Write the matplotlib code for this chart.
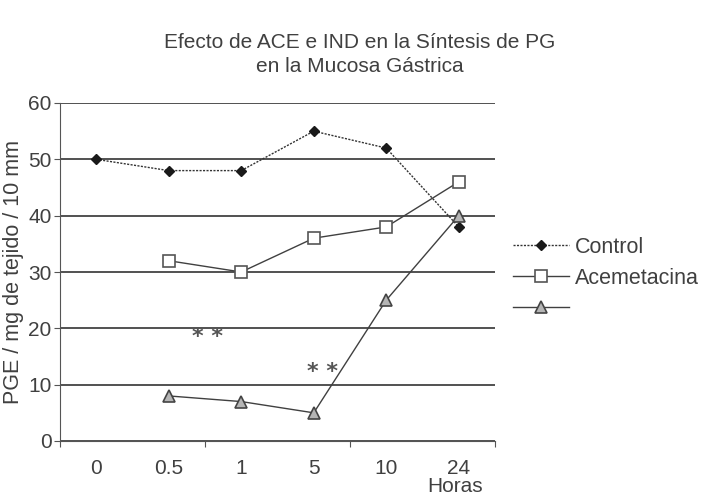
import matplotlib
matplotlib.use("Agg")
import matplotlib.pyplot as plt
import numpy as np

horas = ["0", "0.5", "1", "5", "10", "24"]
control = [50, 48, 48, 55, 52, 38]
acemetacina = [np.nan, 32, 30, 36, 38, 46]
indometacina = [np.nan, 8, 7, 5, 25, 40]

txt = "#404040"
plt.rcParams["font.family"] = ["Liberation Sans", "DejaVu Sans"]

fig = plt.figure(figsize=(7.14, 4.97), dpi=100)
ax = fig.add_axes([60 / 714, 1 - 441 / 497, 435 / 714, 338 / 497])

x = np.arange(len(horas)) + 0.5
ax.plot(x, control, ls=(0, (1.5, 1)), lw=1, color="#333333", marker="D", ms=5,
        mfc="#1a1a1a", mec="#1a1a1a", label="Control", zorder=3)
ax.plot(x, acemetacina, "-", lw=1, color="#404040", marker="s", ms=9,
        mfc="white", mec="#555555", mew=1.2, label="Acemetacina", zorder=3)
ax.plot(x, indometacina, "-", lw=1, color="#404040", marker="^", ms=9,
        mfc="#b5b5b5", mec="#444444", mew=1.2, label=" ", zorder=3)

ax.set_xlim(0, 6)
ax.set_ylim(0, 60)
ax.set_yticks(range(0, 61, 10))
ax.yaxis.grid(True, color="#333333", lw=1.2)
ax.set_axisbelow(True)
ax.set_xticks([0, 2, 4, 6])
ax.set_xticklabels([])
ax.set_xticks(x, minor=True)
ax.set_xticklabels(horas, minor=True)
ax.tick_params(axis="x", which="major", length=4, color="#555555")
ax.tick_params(axis="x", which="minor", length=0, pad=13, labelsize=15, labelcolor=txt)
ax.tick_params(axis="y", length=4, color="#555555", labelsize=15, labelcolor=txt, pad=2)
for s in ["top", "right"]:
    ax.spines[s].set_visible(False)
for s in ["left", "bottom"]:
    ax.spines[s].set_color("#555555")

ax.text(2.03, 18.5, "* *", ha="center", va="center", fontsize=16, color="#555555",
        family="DejaVu Sans", weight="bold")
ax.text(3.62, 12.3, "* *", ha="center", va="center", fontsize=16, color="#555555",
        family="DejaVu Sans", weight="bold")

ax.set_ylabel("PGE / mg de tejido / 10 mm", fontsize=15.5, color=txt, labelpad=3)
fig.text(455 / 714, 1 - 486 / 497, "Horas", ha="center", va="center", fontsize=15, color=txt)
fig.text(360 / 714, 1 - 42 / 497, "Efecto de ACE e IND en la Síntesis de PG",
         ha="center", va="center", fontsize=15, color=txt)
fig.text(360 / 714, 1 - 66 / 497, "en la Mucosa Gástrica",
         ha="center", va="center", fontsize=15, color=txt)

ax.legend(loc="center left", bbox_to_anchor=(494 / 714, 1 - 278 / 497),
          bbox_transform=fig.transFigure, frameon=False, fontsize=15.5,
          handlelength=2.6, handletextpad=0.25, labelspacing=0.45, labelcolor=txt)

fig.savefig("out.png", dpi=100)
plt.close(fig)
